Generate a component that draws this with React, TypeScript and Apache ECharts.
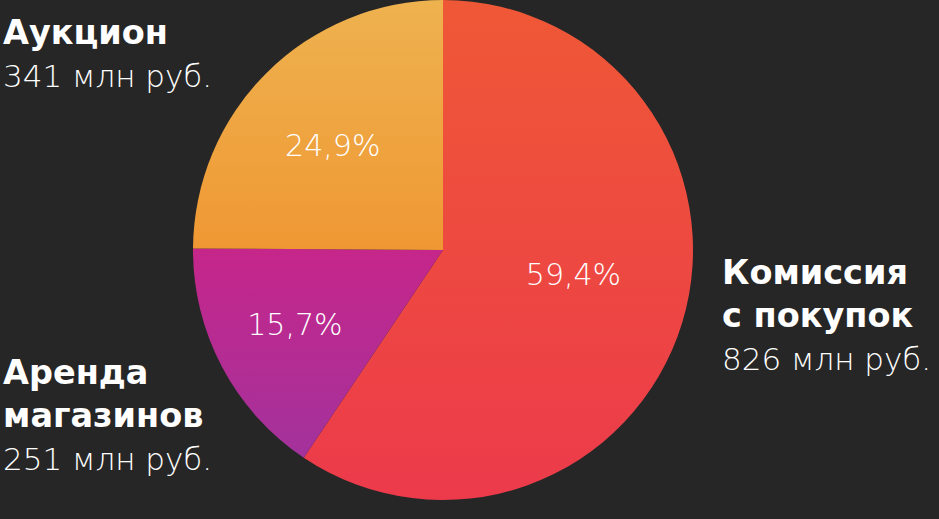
import React, { useEffect, useRef } from "react";
import * as echarts from "echarts";

const nameLines: string[][] = [["Комиссия", "с покупок"], ["Аренда", "магазинов"], ["Аукцион"]];
const amounts: number[] = [826, 251, 341];
const shares: number[] = [59.4, 15.7, 24.9];
const unit = "млн руб.";

const FONT = "'DejaVu Sans', Inter, sans-serif";

export default function App() {
  const ref = useRef<HTMLDivElement>(null);
  useEffect(() => {
    const chart = echarts.init(ref.current!, null, { renderer: "svg" });
    const grads = [
      ["#EF5836", "#EC3A4B"],
      ["#C6268A", "#A3329C"],
      ["#EEB24F", "#EF9833"],
    ];
    const labelOffsets = [
      [8, -13],
      [-35, 15],
      [-20, -14],
    ];
    // outer label blocks: [x, baseline of first line]
    const blocks = [
      [722, 285],
      [3, 385],
      [3, 45],
    ];
    const lineGap = 42.5;
    const graphics: any[] = [];
    nameLines.forEach((lines, i) => {
      const [x, b0] = blocks[i];
      const all = [...lines.map((t) => ({ t, bold: true })), { t: `${amounts[i]} ${unit}`, bold: false }];
      all.forEach((ln, j) => {
        const fs = ln.bold ? 33.5 : 31;
        graphics.push({
          type: "text",
          x,
          y: b0 + j * lineGap - fs * 0.36,
          style: {
            text: ln.t,
            fill: "#ffffff",
            fontSize: fs,
            fontWeight: ln.bold ? 700 : 300,
            fontFamily: FONT,
            textAlign: "left",
            textVerticalAlign: "middle",
          },
        });
      });
    });
    chart.setOption({
      animation: false,
      backgroundColor: "#262626",
      graphic: graphics,
      series: [
        {
          type: "pie",
          center: [443, 250],
          radius: [0, 250],
          startAngle: 90,
          clockwise: true,
          avoidLabelOverlap: false,
          label: {
            show: true,
            position: "inside",
            color: "#ffffff",
            fontSize: 30,
            fontWeight: 300,
            fontFamily: FONT,
            formatter: (p: any) => `${shares[p.dataIndex].toFixed(1).replace(".", ",")}%`,
          },
          labelLine: { show: false },
          emphasis: { disabled: true },
          data: shares.map((v, i) => ({
            value: v,
            name: nameLines[i].join(" "),
            itemStyle: {
              borderWidth: 0,
              color: new echarts.graphic.LinearGradient(0, 0, 0, 1, [
                { offset: 0, color: grads[i][0] },
                { offset: 1, color: grads[i][1] },
              ]),
            },
            label: { offset: labelOffsets[i] },
          })),
        },
      ],
    });
    return () => chart.dispose();
  }, []);
  return <div ref={ref} style={{ position: "fixed", left: 0, top: 0, width: 939, height: 519 }} />;
}
